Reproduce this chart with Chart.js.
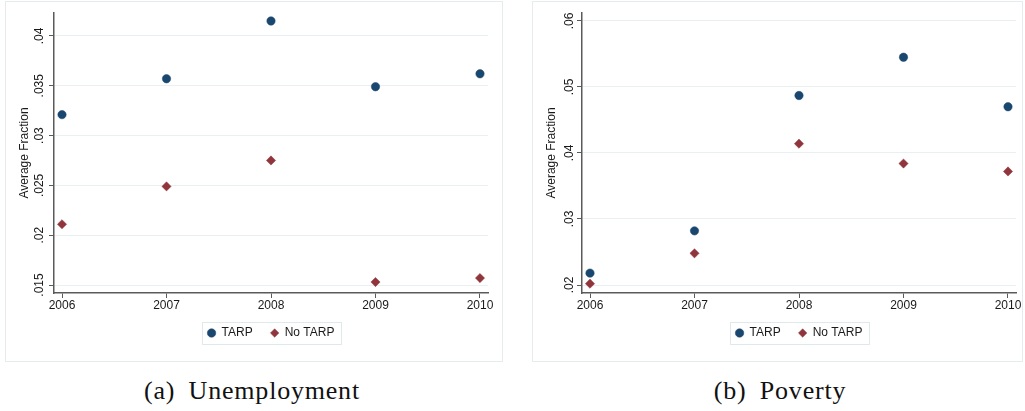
<!DOCTYPE html>
<html>
<head>
<meta charset="utf-8">
<script src="https://cdn.jsdelivr.net/npm/chart.js@4/dist/chart.umd.min.js"></script>
<style>
  html, body { margin: 0; padding: 0; background: #fff; }
  body { width: 1025px; height: 411px; position: relative; overflow: hidden; }
  .frame { position: absolute; border: 1px solid #e4ecee; box-sizing: border-box; }
  .wrap { position: absolute; }
  .cap { position: absolute; font-family: "Liberation Serif", "Times New Roman", serif; font-size: 26px; line-height: 26px;
         letter-spacing: 0.8px; word-spacing: 6px; color: #111; white-space: nowrap; transform: translateX(-50%); }
</style>
</head>
<body>
<div class="frame" style="left:5px;top:1px;width:498px;height:361px;"></div>
<div class="frame" style="left:532px;top:1px;width:491px;height:361px;"></div>
<div class="wrap" style="left:5px;top:1px;width:497px;height:360px;"><canvas id="c1" width="497" height="360"></canvas></div>
<div class="wrap" style="left:532px;top:1px;width:490px;height:360px;"><canvas id="c2" width="490" height="360"></canvas></div>
<div class="cap" style="left:252px;top:378px;">(a) Unemployment</div>
<div class="cap" style="left:780px;top:378px;">(b) Poverty</div>
<script>
const years = [2006, 2007, 2008, 2009, 2010];
const xTickLabels = ['2006', '2007', '2008', '2009', '2010'];
const seriesNames = ['TARP', 'No TARP'];
const yTitle = 'Average Fraction';

const unempTarp   = [0.0321, 0.0357, 0.0415, 0.0349, 0.0362];
const unempNoTarp = [0.0211, 0.0249, 0.0275, 0.0153, 0.0157];
const unempTicks  = [0.015, 0.02, 0.025, 0.03, 0.035, 0.04];
const unempTickLabels = ['.015', '.02', '.025', '.03', '.035', '.04'];

const povTarp   = [0.0218, 0.0282, 0.0487, 0.0545, 0.0470];
const povNoTarp = [0.0202, 0.0248, 0.0414, 0.0384, 0.0372];
const povTicks  = [0.02, 0.03, 0.04, 0.05, 0.06];
const povTickLabels = ['.02', '.03', '.04', '.05', '.06'];

const NAVY = '#1a476f';
const MAROON = '#90353b';
const GRID = '#e8f0f2';
const AXIS = '#5a5a5a';
const TEXT = '#1a1a1a';

Chart.defaults.font.family = '"Liberation Sans", Arial, sans-serif';
Chart.defaults.font.size = 12;
Chart.defaults.color = TEXT;

const legendBox = {
  id: 'legendBox',
  afterDraw(chart) {
    const hb = chart.legend && chart.legend.legendHitBoxes;
    if (!hb || !hb.length) return;
    const first = hb[0], last = hb[hb.length - 1];
    const x0 = Math.round(first.left - 6), x1 = Math.round(last.left + last.width + 7);
    const y0 = Math.round(first.top - 5), y1 = Math.round(first.top + first.height + 5);
    const ctx = chart.ctx;
    ctx.save();
    ctx.strokeStyle = '#dfe9ec';
    ctx.lineWidth = 1;
    ctx.strokeRect(x0 + 0.5, y0 + 0.5, x1 - x0, y1 - y0);
    ctx.restore();
  }
};

function makeChart(id, tarp, noTarp, yTicks, yLabels, yMin, yMax, yWidth, padRight, tickPad) {
  const toPts = arr => years.map((yr, i) => ({ x: yr, y: arr[i] }));
  return new Chart(document.getElementById(id), {
    type: 'scatter',
    data: {
      datasets: [
        { label: seriesNames[0], data: toPts(tarp), pointStyle: 'circle', pointRadius: 4.2,
          backgroundColor: NAVY, borderColor: NAVY, borderWidth: 0.5, clip: false },
        { label: seriesNames[1], data: toPts(noTarp), pointStyle: 'rectRot', pointRadius: 4.6,
          backgroundColor: MAROON, borderColor: MAROON, borderWidth: 0.5, clip: false }
      ]
    },
    plugins: [legendBox],
    options: {
      responsive: false,
      animation: false,
      events: [],
      layout: { padding: { left: 8, right: padRight, top: 12, bottom: 12 } },
      plugins: {
        tooltip: { enabled: false },
        legend: {
          position: 'bottom',
          fullSize: false,
          labels: { usePointStyle: true, boxWidth: 8, boxHeight: 6, padding: 18,
                    font: { size: 12 }, color: TEXT }
        }
      },
      scales: {
        x: {
          type: 'linear',
          min: years[0] - 8 / 104.5,
          max: years[years.length - 1] + 8 / 104.5,
          afterBuildTicks: s => { s.ticks = years.map(v => ({ value: v })); },
          afterFit: s => { s.height = 16; },
          ticks: { autoSkip: false, padding: 0, maxRotation: 0, minRotation: 0, color: TEXT,
                   callback: (v) => xTickLabels[years.indexOf(v)] ?? '' },
          grid: { display: true, drawOnChartArea: false, drawTicks: true, tickLength: 5,
                  tickColor: AXIS, tickWidth: 1 },
          border: { display: true, color: AXIS, width: 1.5 }
        },
        y: {
          type: 'linear',
          min: yMin,
          max: yMax,
          afterBuildTicks: s => { s.ticks = yTicks.map(v => ({ value: v })); },
          afterFit: s => { s.width = yWidth; },
          ticks: { autoSkip: false, minRotation: 90, maxRotation: 90, crossAlign: 'center',
                   padding: tickPad, color: TEXT,
                   callback: (v) => { const i = yTicks.findIndex(t => Math.abs(t - v) < 1e-9); return i >= 0 ? yLabels[i] : ''; } },
          grid: { display: true, drawOnChartArea: true, color: GRID, lineWidth: 1,
                  drawTicks: true, tickLength: 5, tickColor: AXIS, tickWidth: 1 },
          border: { display: true, color: AXIS, width: 1.5 },
          title: { display: true, text: yTitle, color: TEXT, font: { size: 12 },
                   padding: { top: 4, bottom: 0 } }
        }
      }
    }
  });
}

makeChart('c1', unempTarp, unempNoTarp, unempTicks, unempTickLabels, 0.0142, 0.0423, 41, 14, -2.2);
makeChart('c2', povTarp, povNoTarp, povTicks, povTickLabels, 0.01879, 0.0612, 42, 6, -1.3);
</script>
</body>
</html>
